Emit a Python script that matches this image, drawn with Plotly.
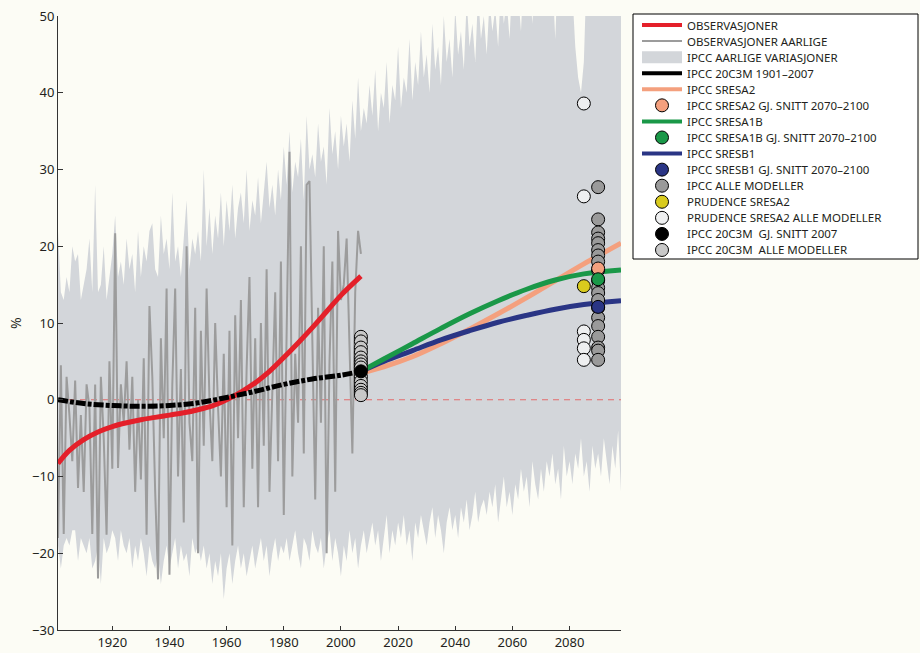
import plotly.graph_objects as go

# ---------------- data ----------------
obs_years = list(range(1901, 2008))
obs_annual = [
    -18, 4.5, -17.5, 3, -2, -8, 2.5, -11.5, -2, -12,
    2, -1, -17.5, 2, -23.3, 3, -5, -17.6, 5, -9,
    21.7, -8.9, 2, -3, 5, -6.5, 3, -12, 0, -10.4,
    5.4, -17.6, 12.2, 3, -12, -23.4, 8, -5, 14.5, -22.8,
    2, 14.5, -10, 4, -16, 20, -3, -8, 12, -20,
    9, -6, 14.5, 0, -8, 10, -1, -10, 6, -14,
    9, -19, 11, -5, 13, -14, 4, 16, -9, 8,
    -14, 10, -6, 17, -12, 1, 14, -8, 18, -15,
    8, 32.3, -10, 6, -3, 20, -7, 28, 28.5, 9,
    -13, 12, -3, 20, -20, 5, 18, -12, 22, 13,
    15, 21, 6, -7, 14, 22, 19,
]

band_years = list(range(1901, 2101))
band_upper = [
    22, 14, 13, 16, 14, 20, 18, 19, 13, 15,
    17, 21, 14, 28, 14, 15, 20, 13, 16, 19,
    24, 16, 18, 15, 21, 17, 19, 14, 22, 16,
    20, 18, 22, 23, 17, 16, 24, 19, 21, 17,
    27, 18, 20, 16, 21, 26, 17, 21, 19, 22,
    18, 30, 20, 25, 19, 24, 21, 27, 20, 26,
    22, 28, 21, 25, 27, 23, 30, 22, 26, 24,
    29, 23, 27, 31, 25, 28, 24, 30, 26, 33,
    28, 35, 27, 31, 29, 34, 26, 37, 30, 32,
    29, 36, 31, 33, 28, 38, 32, 35, 30, 37,
    33, 36, 31, 39, 34, 42, 35, 38, 36, 41,
    37, 43, 35, 40, 38, 44, 36, 41, 39, 46,
    38, 42, 40, 47, 39, 44, 41, 48, 42, 45,
    40, 49, 43, 46, 41, 50, 44, 47, 42, 51,
    45, 48, 43, 52, 46, 49, 44, 53, 47, 50,
    45, 52, 48, 51, 46, 54, 49, 52, 47, 55,
    50, 53, 48, 56, 51, 54, 49, 57, 52, 55,
    50, 58, 53, 55, 47, 57, 54, 56, 51, 58,
    53, 46, 42, 40, 44, 56, 52, 58, 54, 57,
    51, 59, 55, 57, 52, 58, 54, 60, 56, 58,
]
band_lower = [
    -19, -22, -19, -18, -19, -17, -17, -21, -18, -19,
    -20, -18, -22, -21, -19, -24, -18, -20, -19, -17,
    -18, -21, -17, -19, -20, -18, -22, -19, -21, -18,
    -20, -23, -19, -21, -22, -20, -24, -21, -19, -22,
    -20, -18, -22, -19, -21, -20, -23, -18, -20, -19,
    -21, -19, -22, -20, -24, -21, -23, -20, -26, -22,
    -20, -24, -21, -19, -22, -20, -23, -21, -19, -22,
    -20, -18, -21, -19, -23, -20, -18, -21, -19, -20,
    -18, -21, -19, -17, -20, -22, -18, -19, -21, -17,
    -19, -20, -18, -22, -19, -17, -21, -18, -20, -23,
    -19, -21, -17, -20, -18, -22, -19, -17, -20, -18,
    -16, -19, -17, -21, -18, -15, -20, -17, -19, -16,
    -18, -15, -19, -17, -21, -16, -18, -15, -17, -19,
    -16, -14, -18, -15, -17, -20, -16, -14, -17, -15,
    -18, -14, -16, -13, -17, -15, -12, -16, -14, -13,
    -15, -12, -14, -11, -16, -13, -10, -14, -12, -15,
    -11, -13, -9, -12, -10, -14, -8, -11, -13, -9,
    -12, -8, -10, -7, -11, -9, -13, -6, -10, -8,
    -11, -7, -9, -5, -10, -8, -12, -6, -9, -7,
    -10, -5, -8, -11, -6, -9, -4, -12, -7, -9,
]

smooth_years = [1901, 1905, 1910, 1915, 1920, 1925, 1930, 1935, 1940, 1945, 1950,
                1955, 1960, 1965, 1970, 1975, 1980, 1985, 1990, 1995, 2000, 2007]
smooth_obs = [-8.3, -6.6, -5.2, -4.2, -3.5, -3.0, -2.6, -2.3, -2.0, -1.7, -1.3,
              -0.8, 0.0, 1.0, 2.2, 3.7, 5.5, 7.4, 9.4, 11.5, 13.6, 16.1]

c20_years = [1901, 1910, 1920, 1930, 1940, 1950, 1960, 1970, 1980, 1990, 2000, 2007]
c20_mean = [0.0, -0.5, -0.75, -0.85, -0.75, -0.4, 0.3, 1.1, 2.0, 2.7, 3.2, 3.7]

scen_years = [2007, 2015, 2025, 2035, 2045, 2055, 2065, 2075, 2085, 2098]
sresa2 = [3.5, 4.3, 5.6, 7.3, 9.2, 11.2, 13.3, 15.5, 17.7, 20.4]
sresa1b = [3.7, 5.3, 7.3, 9.3, 11.2, 12.9, 14.4, 15.6, 16.4, 16.9]
sresb1 = [3.7, 5.0, 6.4, 7.8, 9.0, 10.1, 11.0, 11.8, 12.4, 12.9]

year_2007 = 2007
c20_all_2007 = [8.2, 7.6, 6.8, 6.2, 5.5, 5.0, 4.6, 4.2, 3.0, 2.4, 1.8, 1.3, 0.9, 0.6]
c20_mean_2007 = 3.7

year_ipcc_future = 2090
ipcc_all_future = [27.7, 23.5, 21.8, 21.0, 20.4, 19.5, 18.8, 18.0, 16.9, 15.5, 14.6,
                   13.9, 13.0, 12.0, 10.7, 9.6, 8.2, 6.8, 6.4, 5.2]
a2_mean_future = 17.1
a1b_mean_future = 15.7
b1_mean_future = 12.1

year_prudence = 2085
prudence_a2 = 14.8
prudence_all = [38.6, 26.5, 8.9, 7.8, 6.7, 5.2]

# ---------------- style ----------------
BG = "#FCFCF5"
RED = "#E4202A"
GRAYLINE = "#9C9C9C"
BAND = "#D3D6DA"
SALMON = "#F4A07E"
GREEN = "#1A9848"
NAVY = "#2A3585"
YELLOW = "#D9CB1E"
MGRAY = "#9A9A9A"
WHITEISH = "#EEEFF0"
LGRAY = "#C8C8C8"
TXT = "#231F20"
FONT = "Noto Sans"

L, R, T, B = 58, 621, 16, 630
W, H = 920, 653

fig = go.Figure()

fig.add_trace(go.Scatter(x=band_years, y=band_lower, mode="lines",
                         line=dict(width=0, color=BAND), hoverinfo="skip", showlegend=False))
fig.add_trace(go.Scatter(x=band_years, y=band_upper, mode="lines", fill="tonexty",
                         fillcolor=BAND, line=dict(width=0, color=BAND),
                         name="IPCC AARLIGE VARIASJONER", showlegend=False))
fig.add_trace(go.Scatter(x=[1901, 2098], y=[0, 0], mode="lines",
                         line=dict(color="#E36B6B", width=1, dash="6px,5px"),
                         showlegend=False, hoverinfo="skip"))
fig.add_trace(go.Scatter(x=obs_years, y=obs_annual, mode="lines",
                         line=dict(color=GRAYLINE, width=2), name="OBSERVASJONER AARLIGE",
                         showlegend=False))
fig.add_trace(go.Scatter(x=smooth_years, y=smooth_obs, mode="lines", line_shape="spline",
                         line=dict(color=RED, width=5), name="OBSERVASJONER", showlegend=False))
fig.add_trace(go.Scatter(x=c20_years, y=c20_mean, mode="lines", line_shape="spline",
                         line=dict(color="black", width=5, dash="10px,2px,4px,2px"),
                         name="IPCC 20C3M 1901–2007", showlegend=False))
for ys, col, nm in [(sresa2, SALMON, "IPCC SRESA2"), (sresb1, NAVY, "IPCC SRESB1"),
                    (sresa1b, GREEN, "IPCC SRESA1B")]:
    fig.add_trace(go.Scatter(x=scen_years, y=ys, mode="lines", line_shape="spline",
                             line=dict(color=col, width=5), name=nm, showlegend=False))

MK = 13
def markers(xval, yvals, color, name):
    fig.add_trace(go.Scatter(x=[xval] * len(yvals), y=yvals, mode="markers",
                             marker=dict(size=MK, color=color, line=dict(color="black", width=1)),
                             name=name, showlegend=False))

markers(year_2007, c20_all_2007, LGRAY, "IPCC 20C3M  ALLE MODELLER")
markers(year_2007, [c20_mean_2007], "black", "IPCC 20C3M  GJ. SNITT 2007")
markers(year_ipcc_future, ipcc_all_future, MGRAY, "IPCC ALLE MODELLER")
markers(year_ipcc_future, [a2_mean_future], SALMON, "IPCC SRESA2 GJ. SNITT 2070–2100")
markers(year_ipcc_future, [a1b_mean_future], GREEN, "IPCC SRESA1B GJ. SNITT 2070–2100")
markers(year_ipcc_future, [b1_mean_future], NAVY, "IPCC SRESB1 GJ. SNITT 2070–2100")
markers(year_prudence, prudence_all, WHITEISH, "PRUDENCE SRESA2 ALLE MODELLER")
markers(year_prudence, [prudence_a2], YELLOW, "PRUDENCE SRESA2")

# ---------------- manual legend ----------------
def px(xp):
    return (xp - L) / (R - L)

def py(yp):
    return (B - yp) / (B - T)

legend_items = [
    ("line", RED, 4, "OBSERVASJONER"),
    ("line", GRAYLINE, 2, "OBSERVASJONER AARLIGE"),
    ("rect", BAND, 12, "IPCC AARLIGE VARIASJONER"),
    ("line", "black", 4, "IPCC 20C3M 1901–2007"),
    ("line", SALMON, 4, "IPCC SRESA2"),
    ("dot", SALMON, 0, "IPCC SRESA2 GJ. SNITT 2070–2100"),
    ("line", GREEN, 4, "IPCC SRESA1B"),
    ("dot", GREEN, 0, "IPCC SRESA1B GJ. SNITT 2070–2100"),
    ("line", NAVY, 4, "IPCC SRESB1"),
    ("dot", NAVY, 0, "IPCC SRESB1 GJ. SNITT 2070–2100"),
    ("dot", MGRAY, 0, "IPCC ALLE MODELLER"),
    ("dot", YELLOW, 0, "PRUDENCE SRESA2"),
    ("dot", WHITEISH, 0, "PRUDENCE SRESA2 ALLE MODELLER"),
    ("dot", "black", 0, "IPCC 20C3M  GJ. SNITT 2007"),
    ("dot", LGRAY, 0, "IPCC 20C3M  ALLE MODELLER"),
]

shapes = [dict(type="rect", xref="paper", yref="paper", x0=px(633), x1=px(918),
               y0=py(259), y1=py(14), fillcolor="white", line=dict(color="black", width=1),
               layer="above")]
annotations = [dict(text="%", x=px(15), y=py(323), xref="paper", yref="paper",
                    showarrow=False, textangle=-90, font=dict(family=FONT, size=14, color=TXT),
                    xanchor="center", yanchor="middle")]
row0, dy = 25.0, 16.07
for i, (kind, col, w, label) in enumerate(legend_items):
    yc = row0 + i * dy
    if kind == "line":
        shapes.append(dict(type="line", xref="paper", yref="paper", x0=px(642), x1=px(682),
                           y0=py(yc), y1=py(yc), line=dict(color=col, width=w), layer="above"))
    elif kind == "rect":
        shapes.append(dict(type="rect", xref="paper", yref="paper", x0=px(642), x1=px(682),
                           y0=py(yc + w / 2), y1=py(yc - w / 2), fillcolor=col,
                           line=dict(width=0), layer="above"))
    else:
        shapes.append(dict(type="circle", xref="paper", yref="paper",
                           xsizemode="pixel", ysizemode="pixel",
                           xanchor=px(662), yanchor=py(yc), x0=-6.5, x1=6.5, y0=-6.5, y1=6.5,
                           fillcolor=col, line=dict(color="black", width=1), layer="above"))
    annotations.append(dict(text=label, x=px(685), y=py(yc), xref="paper", yref="paper",
                            showarrow=False, xanchor="left", yanchor="middle",
                            font=dict(family=FONT, size=11.5, color=TXT)))

fig.update_layout(
    width=W, height=H,
    margin=dict(l=L, r=W - R, t=T, b=H - B, pad=0, autoexpand=False),
    paper_bgcolor=BG, plot_bgcolor=BG,
    showlegend=False,
    shapes=shapes, annotations=annotations,
    font=dict(family=FONT, size=13, color=TXT),
    xaxis=dict(range=[1901, 2098], showgrid=False, zeroline=False, showline=True,
               automargin=False,
               linecolor="#333333", linewidth=1, ticks="inside", ticklen=4,
               tickcolor="#333333", tickvals=[1920, 1940, 1960, 1980, 2000, 2020, 2040, 2060, 2080],
               tickfont=dict(family=FONT, size=13, color=TXT)),
    yaxis=dict(range=[-30, 50], showgrid=False, zeroline=False, showline=True,
               automargin=False,
               linecolor="#333333", linewidth=1, ticks="inside", ticklen=5,
               tickcolor="#333333", dtick=10, tick0=0,
               tickfont=dict(family=FONT, size=13, color=TXT)),
)

fig.write_html(
    "out.html",
    config={"displayModeBar": False, "staticPlot": True},
    post_script="document.body.style.margin='0';document.body.style.padding='0';"
                "document.body.style.overflow='hidden';"
                "document.body.style.background='" + BG + "';",
)
